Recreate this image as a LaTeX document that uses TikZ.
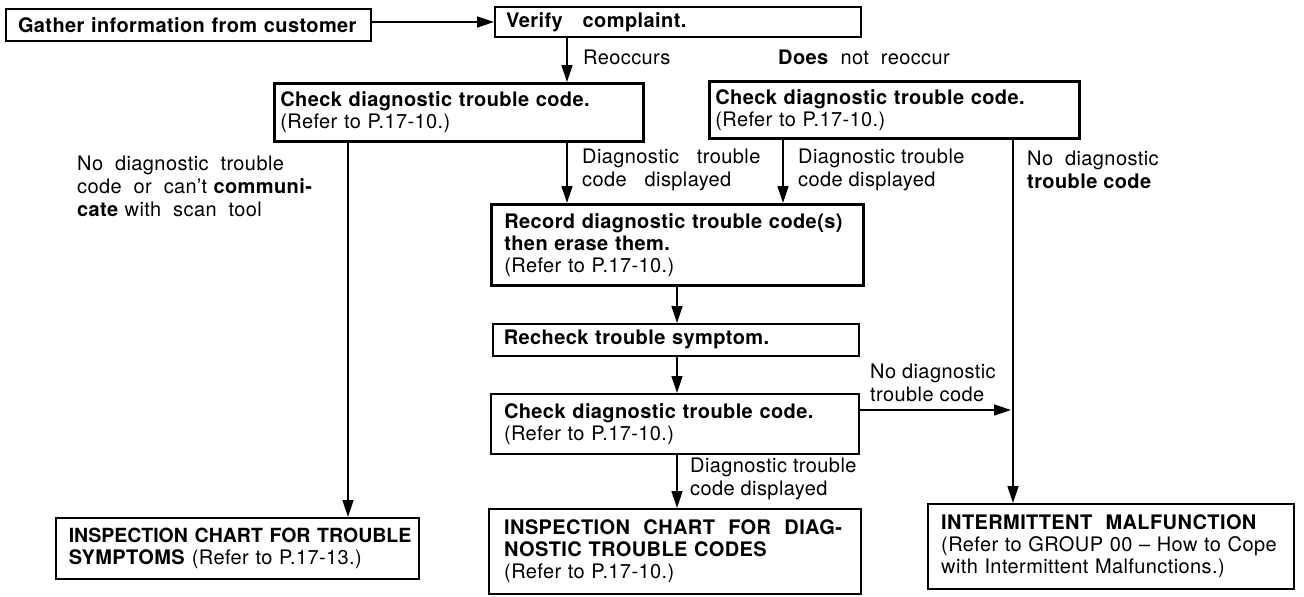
\documentclass[tikz,border=0pt]{standalone}
\usepackage{fontspec}
\setmainfont{TeX Gyre Heros}[LetterSpace=2]
\usetikzlibrary{arrows.meta}
\newcommand\nb[1]{\mbox{#1}}
\begin{document}
\begin{tikzpicture}[x=1pt,y=-1pt,
  every node/.style={font=\fontsize{20}{22}\selectfont},
  box/.style={draw, line width=2pt, inner ysep=0pt, align=left, anchor=north west},
  lbl/.style={align=left, anchor=west, inner sep=0pt, font=\fontsize{20}{23}\selectfont},
  arr/.style={line width=1.5pt, -{Triangle[length=17pt,width=11pt]}}]
\useasboundingbox (0,0) rectangle (1304,597);

% boxes
\node[box, inner xsep=12pt, text width=341pt, minimum height=32pt] (gather) at (5,8)
  {\nb{\bfseries Gather\ information\ from\ customer}};
\node[box, inner xsep=11pt, text width=344pt, minimum height=30pt] (verify) at (494,6)
  {\nb{\bfseries Verify\ \ \ complaint.}};
\node[box, line width=2.6pt, inner xsep=6pt, text width=357pt, minimum height=58pt] (check1) at (273,82)
  {\nb{\bfseries Check diagnostic trouble code.}\\\nb{(Refer to P.17-10.)}};
\node[box, line width=2.6pt, inner xsep=6pt, text width=358pt, minimum height=57pt] (check2) at (708,80)
  {\nb{\bfseries Check diagnostic trouble code.}\\\nb{(Refer to P.17-10.)}};
\node[box, line width=2.6pt, inner xsep=13pt, text width=346pt, minimum height=81pt] (record) at (490,203)
  {\nb{\bfseries Record diagnostic trouble code(s)}\\\nb{\bfseries then erase them.}\\\nb{(Refer to P.17-10.)}};
\node[box, line width=1.6pt, inner xsep=11pt, text width=344pt, minimum height=32pt] (recheck) at (492,323)
  {\nb{\bfseries Recheck trouble symptom.}};
\node[box, inner xsep=13pt, text width=342pt, minimum height=60pt] (check3) at (490,393)
  {\nb{\bfseries Check diagnostic trouble code.}\\\nb{(Refer to P.17-10.)}};
\node[box, line width=2.4pt, inner xsep=15pt, text width=342pt, minimum height=85pt] (inspdiag) at (488,508)
  {\nb{\bfseries INSPECTION\ \ CHART\ \ FOR\ \ DIAG-}\\\nb{\bfseries NOSTIC TROUBLE CODES}\\\nb{(Refer to P.17-10.)}};
\node[box, line width=1.6pt, inner xsep=13pt, text width=337pt, minimum height=61pt] (inspsym) at (55,517)
  {\nb{\bfseries\fontsize{19.5}{22}\selectfont\addfontfeatures{LetterSpace=0}INSPECTION CHART FOR TROUBLE}\\\nb{\textbf{SYMPTOMS} (Refer to P.17-13.)}};
\node[box, line width=2.4pt, inner xsep=13pt, text width=340pt, minimum height=85pt] (intermit) at (927,503)
  {\nb{\bfseries INTERMITTENT\ \ MALFUNCTION}\\\nb{(Refer to GROUP 00 -- How to Cope}\\\nb{with Intermittent Malfunctions.)}};

% x positions of vertical connectors
\coordinate (xA) at (567,0);
\coordinate (xB) at (783,0);
\coordinate (xL) at (348,0);
\coordinate (xR) at (1013,0);
\coordinate (xM) at (677,0);
\coordinate (j) at (1011,410);

% connectors
\draw[arr] (gather.east |- verify.west) -- (verify.west);
\draw[arr] (verify.south -| xA) -- (check1.north -| xA);
\draw[arr] (check1.south -| xA) -- (record.north -| xA);
\draw[arr] (check2.south -| xB) -- (record.north -| xB);
\draw[arr] (check1.south -| xL) -- (inspsym.north -| xL);
\draw[arr] (check2.south -| xR) -- (intermit.north -| xR);
\draw[arr] (record.south -| xM) -- (recheck.north -| xM);
\draw[arr] (recheck.south -| xM) -- (check3.north -| xM);
\draw[arr] (check3.south -| xM) -- (inspdiag.north -| xM);
\draw[arr] (check3.east |- j) -- (j);

% labels
\node[lbl] (lreo) at (583,57) {Reoccurs};
\node[lbl] (lnot) at (778,57) {\textbf{Does}\ \ not\ \ reoccur};
\node[lbl] (lleft) at (77,186) {No\ \ diagnostic\ \ trouble\\code\ \ or\ \ can't \textbf{communi-}\\\textbf{cate} with\ \ scan\ \ tool};
\node[lbl] (ld1) at (582,169.5) {Diagnostic\ \ \ trouble\\code\ \ \ displayed};
\node[lbl] (ld2) at (798,169.5) {Diagnostic trouble\\code displayed};
\node[lbl] (lnd) at (1027,169.5) {No\ \ diagnostic\\\textbf{trouble code}};
\node[lbl] (lnd3) at (870,383) {No diagnostic\\trouble code};
\node[lbl] (ld3) at (690,478.5) {Diagnostic trouble\\code displayed};
\end{tikzpicture}
\end{document}
